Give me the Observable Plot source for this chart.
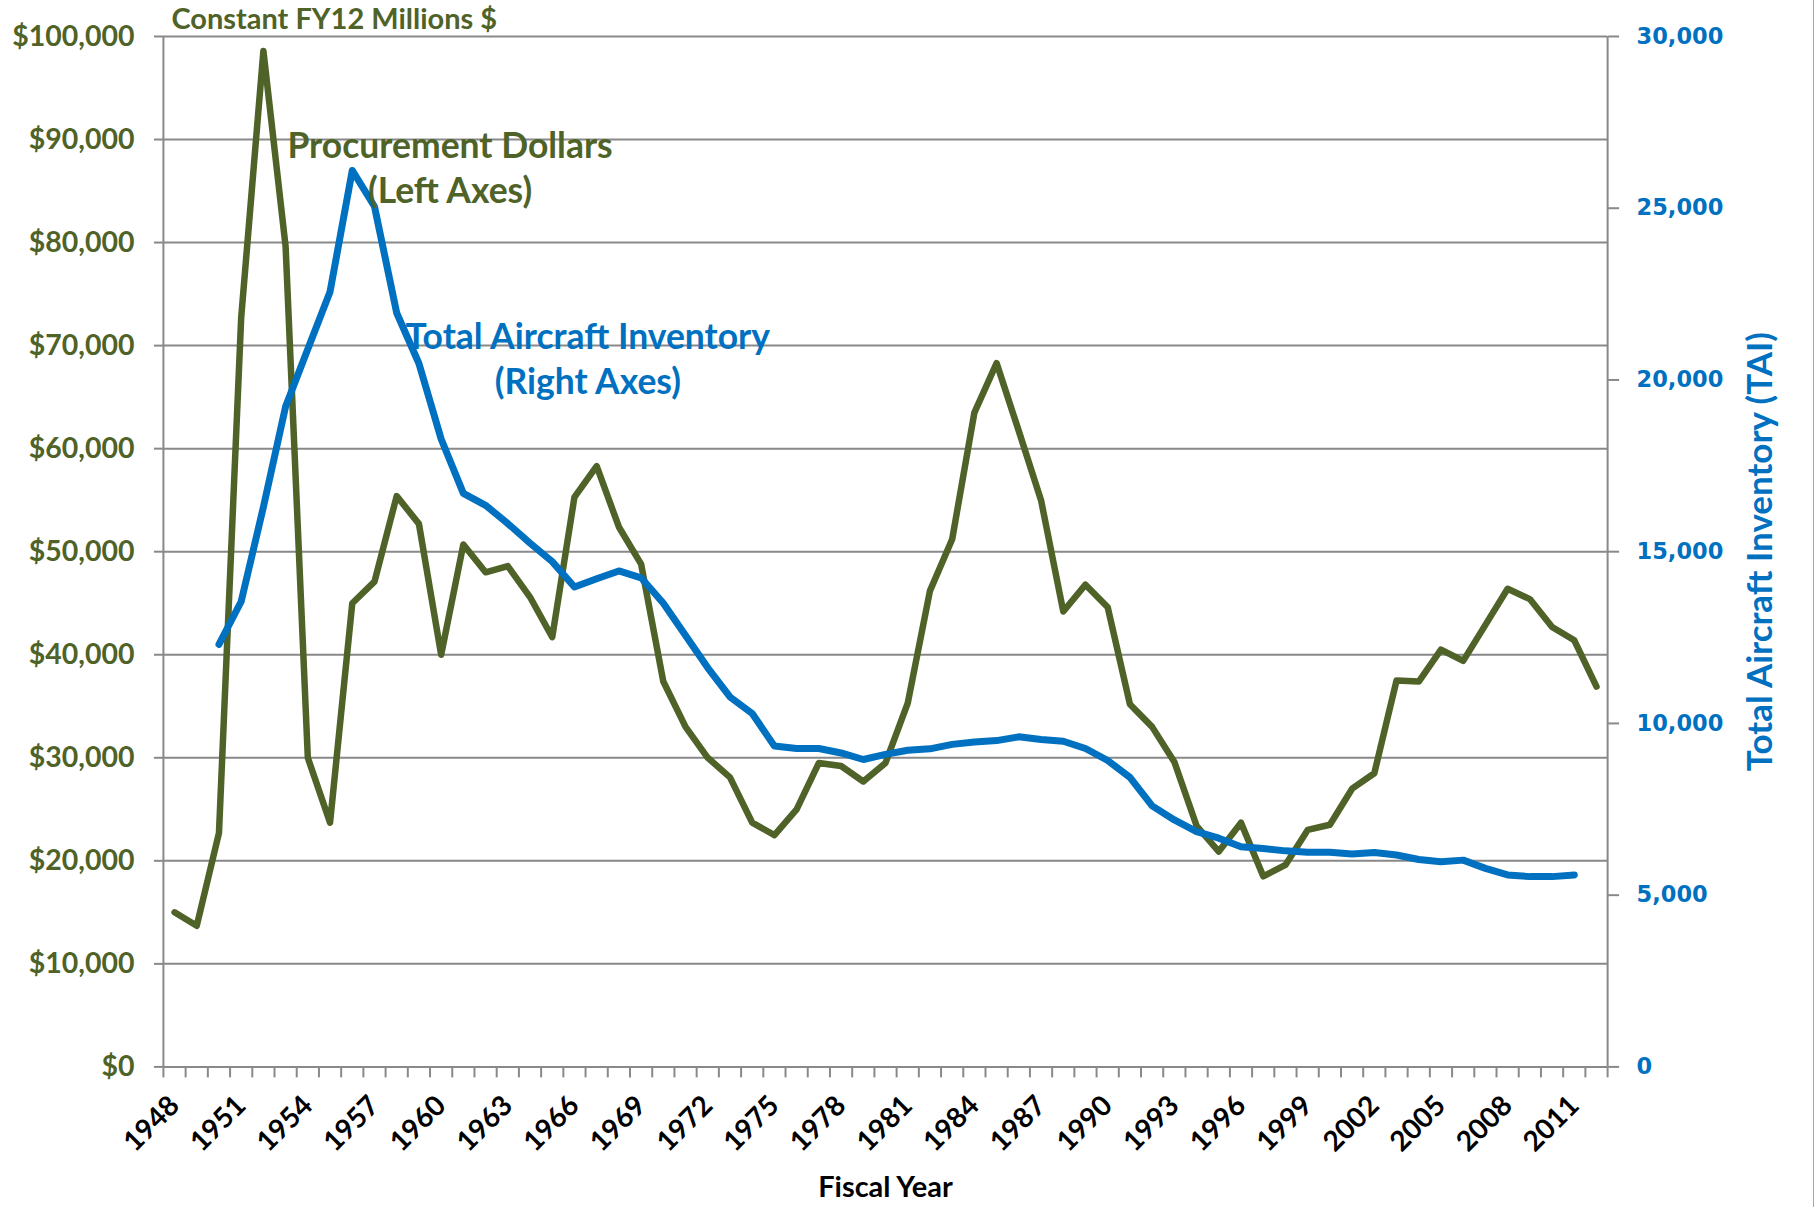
<!DOCTYPE html>
<html>
<head>
<meta charset="utf-8">
<script src="https://cdn.jsdelivr.net/npm/d3@7"></script>
<script src="https://cdn.jsdelivr.net/npm/@observablehq/plot@0.6"></script>
<style>
  html, body { margin: 0; padding: 0; background: #ffffff; }
  #chart { width: 1814px; height: 1207px; position: relative; box-sizing: border-box; border-right: 1px solid #a6a6a6; overflow: hidden; }
  #chart svg { display: block; }
</style>
</head>
<body>
<div id="chart"></div>
<script>
// ---- Data ----
const years = [1948,1949,1950,1951,1952,1953,1954,1955,1956,1957,1958,1959,1960,1961,1962,1963,1964,1965,1966,1967,1968,1969,1970,1971,1972,1973,1974,1975,1976,1977,1978,1979,1980,1981,1982,1983,1984,1985,1986,1987,1988,1989,1990,1991,1992,1993,1994,1995,1996,1997,1998,1999,2000,2001,2002,2003,2004,2005,2006,2007,2008,2009,2010,2011,2012];

// Procurement dollars, constant FY12 millions $ (left axis)
const procurement = [15000,13700,22700,72700,98600,79600,30000,23700,45000,47100,55400,52700,40000,50700,48000,48600,45600,41700,55300,58300,52400,48800,37400,33000,30000,28100,23700,22500,25000,29500,29200,27700,29500,35300,46200,51200,63500,68300,61700,55000,44200,46800,44600,35200,33000,29600,23400,20900,23700,18500,19600,23000,23500,27000,28500,37500,37400,40500,39400,42900,46400,45400,42700,41400,36900];

// Total Aircraft Inventory (right axis)
const inventoryYears = [1950,1951,1952,1953,1954,1955,1956,1957,1958,1959,1960,1961,1962,1963,1964,1965,1966,1967,1968,1969,1970,1971,1972,1973,1974,1975,1976,1977,1978,1979,1980,1981,1982,1983,1984,1985,1986,1987,1988,1989,1990,1991,1992,1993,1994,1995,1996,1997,1998,1999,2000,2001,2002,2003,2004,2005,2006,2007,2008,2009,2010,2011];
const inventory = [12300,13550,16300,19230,20900,22570,26100,25050,21950,20480,18280,16700,16350,15820,15250,14710,13970,14210,14440,14240,13500,12560,11620,10770,10290,9340,9270,9270,9140,8950,9100,9220,9260,9390,9460,9500,9610,9530,9480,9270,8920,8430,7600,7190,6850,6660,6410,6360,6290,6250,6250,6200,6240,6170,6040,5970,6020,5780,5590,5540,5540,5590];

const leftTicks = [0,10000,20000,30000,40000,50000,60000,70000,80000,90000,100000];
const rightTicks = [0,5000,10000,15000,20000,25000,30000];
const labelYears = [1948,1951,1954,1957,1960,1963,1966,1969,1972,1975,1978,1981,1984,1987,1990,1993,1996,1999,2002,2005,2008,2011];

const leftMax = 100000;
const rightMax = 30000;

const titleText = "Constant FY12 Millions $";
const xLabel = "Fiscal Year";
const rightLabel = "Total Aircraft Inventory (TAI)";
const annotations = [
  {text: "Procurement Dollars\n(Left Axes)", year: 1960.4, value: 87450, series: "procurement"},
  {text: "Total Aircraft Inventory\n(Right Axes)", year: 1966.6, value: 68880, series: "inventory"}
];

// ---- Styles ----
const green = "#4F6228";
const blue = "#0070C0";
const gray = "#898989";
const font = "Lato, 'Open Sans', sans-serif";

// ---- Derived tables ----
const ratio = leftMax / rightMax;
const procurementData = years.map((year, i) => ({year, value: procurement[i]}));
const inventoryData = inventoryYears.map((year, i) => ({year, value: inventory[i]}));
const boundaries = years.map(y => y - 0.5).concat([years[years.length - 1] + 0.5]);
const xDomain = [boundaries[0], boundaries[boundaries.length - 1]];

const chart = Plot.plot({
  width: 1814,
  height: 1207,
  marginLeft: 163,
  marginRight: 206,
  marginTop: 36,
  marginBottom: 140,
  style: {fontFamily: font, background: "#ffffff", overflow: "visible"},
  x: {domain: xDomain},
  y: {domain: [0, leftMax]},
  marks: [
    // gridlines
    Plot.gridY(leftTicks.slice(1), {stroke: gray, strokeOpacity: 1, strokeWidth: 2}),
    // left axis
    Plot.axisY(leftTicks, {
      anchor: "left", tickSize: 9, tickPadding: 20, stroke: gray, strokeWidth: 2,
      tickFormat: d => "$" + d3.format(",")(d), fill: green,
      fontSize: 28.5, fontWeight: "bold", fontFamily: font, label: null
    }),
    // right axis
    Plot.axisY(rightTicks.map(v => v * ratio), {
      anchor: "right", tickSize: 11, tickPadding: 18, stroke: gray, strokeWidth: 2,
      tickFormat: d => d3.format(",")(Math.round(d / ratio)), fill: blue,
      fontSize: 22.5, fontWeight: "bold", fontFamily: "'DejaVu Sans', Verdana, sans-serif", label: null
    }),
    // x category boundary ticks
    Plot.axisX(boundaries, {
      anchor: "bottom", tickSize: 11, stroke: gray, strokeWidth: 2,
      tickFormat: () => "", label: null
    }),
    // x labels
    Plot.axisX(labelYears, {
      anchor: "bottom", tickSize: 0, tickPadding: 34, tickRotate: -45,
      tickFormat: d => String(d),
      fill: "#000", fontSize: 28, fontWeight: "bold", fontFamily: font, label: null
    }),
    // axis lines
    Plot.ruleX(xDomain, {stroke: gray, strokeWidth: 2}),
    Plot.ruleY([0], {stroke: gray, strokeWidth: 2}),
    // series
    Plot.line(procurementData, {
      x: "year", y: "value", stroke: green, strokeWidth: 6.5,
      strokeLinejoin: "round", strokeLinecap: "round"
    }),
    Plot.line(inventoryData, {
      x: "year", y: d => d.value * ratio, stroke: blue, strokeWidth: 7,
      strokeLinejoin: "round", strokeLinecap: "round"
    }),
    // annotations
    Plot.text(annotations, {
      x: "year", y: "value", text: "text",
      fill: d => d.series === "procurement" ? green : blue,
      fontSize: 35.5, fontWeight: "bold", fontFamily: font, lineHeight: 1.27,
      textAnchor: "middle"
    }),
    // title above plot
    Plot.text([titleText], {
      frameAnchor: "top-left", dx: 8, dy: -17, textAnchor: "start", lineAnchor: "middle",
      fill: green, fontSize: 29, fontWeight: "bold", fontFamily: font
    }),
    // x axis title
    Plot.text([xLabel], {
      frameAnchor: "bottom", dy: 121, textAnchor: "middle", lineAnchor: "middle",
      fill: "#000", fontSize: 29, fontWeight: "bold", fontFamily: font
    }),
    // right axis title
    Plot.text([rightLabel], {
      frameAnchor: "right", dx: 153, rotate: -90, textAnchor: "middle", lineAnchor: "middle",
      fill: blue, fontSize: 35, fontWeight: "bold", fontFamily: font
    })
  ]
});

document.getElementById("chart").appendChild(chart);
</script>
</body>
</html>
